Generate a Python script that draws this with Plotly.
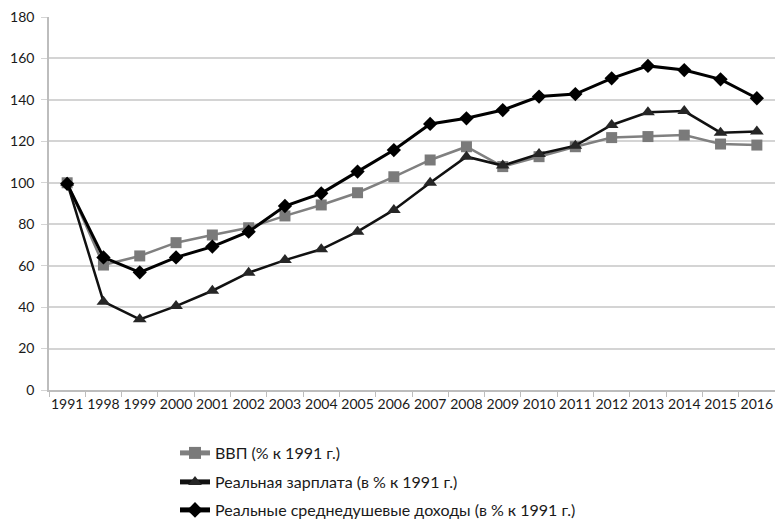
import plotly.graph_objects as go

years = ["1991", "1998", "1999", "2000", "2001", "2002", "2003", "2004", "2005", "2006",
         "2007", "2008", "2009", "2010", "2011", "2012", "2013", "2014", "2015", "2016"]
gdp = [100, 60.3, 64.7, 71.1, 74.8, 78.3, 84.0, 89.3, 95.2, 102.9,
       111.0, 117.4, 107.8, 112.6, 117.4, 121.8, 122.3, 123.0, 118.7, 118.2]
wage = [100, 42.6, 34.1, 40.5, 47.9, 56.6, 62.7, 67.9, 76.4, 86.9,
        100.0, 112.6, 108.3, 113.9, 117.9, 127.9, 134.0, 134.6, 124.2, 124.7]
income = [99.5, 64.0, 56.8, 64.0, 69.2, 76.4, 88.8, 94.9, 105.4, 115.8,
          128.4, 131.1, 135.1, 141.6, 142.8, 150.4, 156.4, 154.4, 149.9, 140.8]
names = ["ВВП (% к 1991 г.)", "Реальная зарплата (в % к 1991 г.)",
         "Реальные среднедушевые доходы (в % к 1991 г.)"]
yticks = [0, 20, 40, 60, 80, 100, 120, 140, 160, 180]

# the page is offset by 8px and the right edge of the view is clipped: keep all inside
W, H = 767, 511
FONT = "Lato"

fig = go.Figure()
fig.add_trace(go.Scatter(x=years, y=gdp, name=names[0], mode="lines+markers",
                         line=dict(color="#808080", width=2.5),
                         marker=dict(symbol="square", size=11, color="#7a7a7a"),
                         legend="legend"))
fig.add_trace(go.Scatter(x=years, y=wage, name=names[1], mode="lines+markers",
                         line=dict(color="#111111", width=2.5),
                         marker=dict(symbol="triangle-up", size=12, color="#262626"),
                         legend="legend2"))
fig.add_trace(go.Scatter(x=years, y=income, name=names[2], mode="lines+markers",
                         line=dict(color="#000000", width=3),
                         marker=dict(symbol="diamond", size=11, color="#000000"),
                         legend="legend3"))

def leg(ypx):
    return dict(xref="container", yref="container", x=167 / W, y=1 - ypx / H,
                xanchor="left", yanchor="middle", bgcolor="rgba(0,0,0,0)",
                itemsizing="constant",
                font=dict(family=FONT, size=16, color="#1a1a1a"))

fig.update_layout(
    width=W, height=H,
    margin=dict(l=41, r=0, t=9, b=H - 382, autoexpand=False),
    paper_bgcolor="white", plot_bgcolor="white",
    font=dict(family=FONT, size=14, color="#1a1a1a"),
    showlegend=True,
    legend=leg(445), legend2=leg(474), legend3=leg(502),
    xaxis=dict(type="category", categoryorder="array", categoryarray=years,
               range=[-0.5, len(years) - 0.5],
               showline=True, linecolor="#bdbdbd", linewidth=1.5,
               ticks="outside", tickson="boundaries", ticklen=5, tickcolor="#bdbdbd",
               showgrid=False, tickangle=0, ticklabeloverflow="allow",
               tickfont=dict(family=FONT, size=14, color="#1a1a1a"),
               fixedrange=True),
    yaxis=dict(range=[0, 180], tickvals=yticks, showline=True, linecolor="#bdbdbd",
               linewidth=1.5, gridcolor="#d4d4d4", gridwidth=1.5,
               ticks="outside", ticklen=6, tickcolor="#d4d4d4",
               ticklabeloverflow="allow",
               zeroline=False, tickfont=dict(family=FONT, size=14, color="#1a1a1a"),
               ticklabelstandoff=4),
)

fig.write_html("out.html")
